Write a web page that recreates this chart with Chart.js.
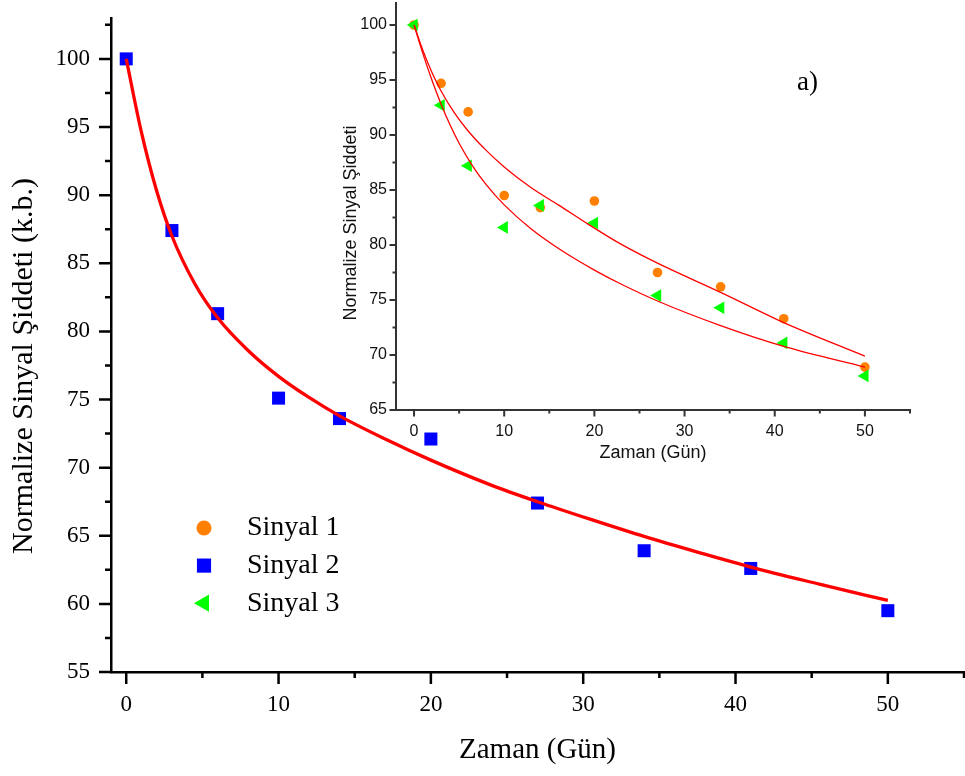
<!DOCTYPE html>
<html lang="tr">
<head>
  <meta charset="UTF-8">
  <title>Normalize Sinyal Şiddeti</title>
  <script src="https://cdn.jsdelivr.net/npm/chart.js"></script>
  <style>
    body { margin: 0; background: #fff; }
    #wrap { position: relative; width: 965px; height: 776px; }
    #wrap canvas { position: absolute; top: 0; }
    #mainChart { left: 0; }
    #insetChart { left: 330px; }
  </style>
</head>
<body>
<div id="wrap">
  <canvas id="mainChart" width="965" height="776"></canvas>
  <canvas id="insetChart" width="600" height="470"></canvas>
</div>
<script>
  // measurement days
  const days = [0, 3, 6, 10, 14, 20, 27, 34, 41, 50];

  // normalised signal intensity for each signal
  const sinyal1 = [100, 94.7, 92.1, 84.5, 83.4, 84.0, 77.5, 76.2, 73.3, 68.9];
  const sinyal2 = [100, 87.4, 81.3, 75.1, 73.6, 72.1, 67.4, 63.9, 62.6, 59.5];
  const sinyal3 = [100, 92.7, 87.2, 81.6, 83.6, 82.0, 75.4, 74.3, 71.1, 68.1];

  // fitted decay curves
  const fit2Days = [0, 1, 2, 3, 4.5, 6, 8, 10, 12, 14, 17, 20, 24, 27, 30.5, 34, 37.5, 41, 45.5, 50];
  const fit2 = [100, 94.6, 90.3, 87.0, 83.5, 81.0, 78.6, 76.7, 75.15, 73.8, 72.1, 70.55, 68.7, 67.5, 66.2, 64.95, 63.8, 62.7, 61.45, 60.25];
  const fit1Days = [0, 1, 2, 3, 4.5, 6, 8, 10, 13, 16, 19.3, 22.8, 27, 34, 41, 50];
  const fit1 = [100, 97.65, 95.65, 94.0, 91.98, 90.36, 88.6, 87.1, 85.2, 83.65, 81.9, 80.15, 78.35, 75.7, 72.95, 69.9];
  const fit3Days = [0, 1, 2, 3, 4, 5, 6.5, 8, 10, 13, 16.5, 20, 23, 27, 34, 41, 50];
  const fit3 = [100, 97.35, 94.95, 92.8, 90.9, 89.25, 87.18, 85.49, 83.65, 81.46, 79.43, 77.72, 76.43, 74.91, 72.67, 70.78, 68.9];

  // axis ticks (labels on the major ones only)
  const mainXMajor = [0, 10, 20, 30, 40, 50];
  const mainXMinor = [5, 15, 25, 35, 45, 55];
  const mainYMajor = [55, 60, 65, 70, 75, 80, 85, 90, 95, 100];
  const mainYMinor = [57.5, 62.5, 67.5, 72.5, 77.5, 82.5, 87.5, 92.5, 97.5, 102.5];
  const insetXMajor = [0, 10, 20, 30, 40, 50];
  const insetXMinor = [5, 15, 25, 35, 45, 55];
  const insetYMajor = [65, 70, 75, 80, 85, 90, 95, 100];
  const insetYMinor = [67.5, 72.5, 77.5, 82.5, 87.5, 92.5, 97.5];

  const legendLabels = ['Sinyal 1', 'Sinyal 2', 'Sinyal 3'];

  const ORANGE = '#ff8000';
  const BLUE = '#0000ff';
  const GREEN = '#00ff00';
  const RED = '#ff0000';
  const SERIF = "'Liberation Serif', 'Times New Roman', serif";
  const SANS = "'Liberation Sans', Arial, sans-serif";

  const pts = (xs, ys) => xs.map((x, i) => ({ x: x, y: ys[i] }));
  const tickList = (major, minor) => major.concat(minor).sort((a, b) => a - b).map(v => ({ value: v }));

  // short minor / long major tick marks outside the axes
  const tickMarks = {
    id: 'tickMarks',
    afterDraw(chart, args, o) {
      const { ctx, chartArea } = chart;
      const sx = chart.scales.x, sy = chart.scales.y;
      ctx.save();
      ctx.strokeStyle = o.color;
      ctx.lineWidth = o.width;
      ctx.beginPath();
      sx.ticks.forEach(t => {
        const px = sx.getPixelForValue(t.value);
        const len = o.xMajor.includes(t.value) ? o.major : o.minor;
        ctx.moveTo(px, chartArea.bottom);
        ctx.lineTo(px, chartArea.bottom + len);
      });
      sy.ticks.forEach(t => {
        const py = sy.getPixelForValue(t.value);
        const len = o.yMajor.includes(t.value) ? o.major : o.minor;
        ctx.moveTo(chartArea.left, py);
        ctx.lineTo(chartArea.left - len, py);
      });
      ctx.stroke();
      ctx.restore();
    }
  };

  // free text: rotated y titles and the panel letter
  const texts = {
    id: 'texts',
    afterDraw(chart, args, o) {
      const ctx = chart.ctx;
      (o.items || []).forEach(it => {
        ctx.save();
        ctx.translate(it.x, it.y);
        if (it.rotate) ctx.rotate(it.rotate);
        ctx.font = it.font;
        ctx.fillStyle = it.color || '#000';
        ctx.textAlign = it.align || 'center';
        ctx.textBaseline = 'middle';
        ctx.fillText(it.text, 0, 0);
        ctx.restore();
      });
    }
  };

  // legend box sitting inside the plot
  const markerLegend = {
    id: 'markerLegend',
    afterDraw(chart, args, o) {
      const ctx = chart.ctx;
      o.items.forEach((it, i) => {
        const y = o.y + i * o.step;
        ctx.save();
        ctx.fillStyle = it.color;
        Chart.helpers.drawPoint(ctx, { pointStyle: it.style, radius: it.radius, rotation: it.rotation || 0, borderWidth: 0 }, o.x, y);
        ctx.fillStyle = '#000';
        ctx.font = o.font;
        ctx.textAlign = 'left';
        ctx.textBaseline = 'middle';
        ctx.fillText(it.text, o.textX, y);
        ctx.restore();
      });
    }
  };

  new Chart(document.getElementById('mainChart'), {
    type: 'scatter',
    data: {
      datasets: [
        {
          label: 'Fit',
          data: pts(fit2Days, fit2),
          showLine: true,
          borderColor: RED,
          borderWidth: 3.3,
          pointRadius: 0,
          pointHoverRadius: 0,
          cubicInterpolationMode: 'monotone',
          order: 0
        },
        {
          label: legendLabels[1],
          data: pts(days, sinyal2),
          pointStyle: 'rect',
          pointRadius: 9.2,
          backgroundColor: BLUE,
          pointBorderWidth: 0,
          order: 1
        }
      ]
    },
    options: {
      responsive: false,
      animation: false,
      devicePixelRatio: 1,
      layout: { autoPadding: false, padding: { top: 18, right: 1, left: 0, bottom: 0 } },
      plugins: {
        legend: { display: false },
        tooltip: { enabled: false },
        tickMarks: { color: '#000', width: 2.5, major: 12, minor: 6, xMajor: mainXMajor, yMajor: mainYMajor },
        texts: {
          items: [
            { text: 'Normalize Sinyal Şiddeti (k.b.)', x: 24, y: 366, rotate: -Math.PI / 2, font: '30px ' + SERIF },
            { text: 'a)', x: 797, y: 83, align: 'left', font: '27px ' + SERIF }
          ]
        },
        markerLegend: {
          x: 204, y: 528, step: 37.6, textX: 247, font: '28px ' + SERIF,
          items: [
            { text: legendLabels[0], style: 'circle', radius: 7.5, color: ORANGE },
            { text: legendLabels[1], style: 'rect', radius: 10, color: BLUE },
            { text: legendLabels[2], style: 'triangle', radius: 10, rotation: -90, color: GREEN }
          ]
        }
      },
      scales: {
        x: {
          type: 'linear',
          min: -1,
          max: 55,
          afterBuildTicks: s => { s.ticks = tickList(mainXMajor, mainXMinor); },
          afterFit: s => { s.height = 104; s.paddingLeft = 0; s.paddingRight = 0; },
          grid: { display: false, drawTicks: false },
          border: { display: true, color: '#000', width: 2.5 },
          ticks: {
            autoSkip: false,
            maxRotation: 0,
            padding: 19,
            color: '#000',
            font: { family: SERIF, size: 23 },
            callback: v => mainXMajor.includes(v) ? v : ''
          },
          title: { display: true, text: 'Zaman (Gün)', color: '#000', font: { family: SERIF, size: 29 }, padding: { top: 0, bottom: 8 } }
        },
        y: {
          type: 'linear',
          min: 55,
          max: 103,
          afterBuildTicks: s => { s.ticks = tickList(mainYMajor, mainYMinor); },
          afterFit: s => { s.width = 111; s.paddingTop = 0; s.paddingBottom = 0; },
          grid: { display: false, drawTicks: false },
          border: { display: true, color: '#000', width: 2.5 },
          ticks: {
            autoSkip: false,
            padding: 21,
            color: '#000',
            font: { family: SERIF, size: 23 },
            callback: v => mainYMajor.includes(v) ? v : ''
          }
        }
      }
    },
    plugins: [tickMarks, texts, markerLegend]
  });

  new Chart(document.getElementById('insetChart'), {
    type: 'scatter',
    data: {
      datasets: [
        {
          label: 'Fit 1',
          data: pts(fit1Days, fit1),
          showLine: true,
          borderColor: RED,
          borderWidth: 1.3,
          pointRadius: 0,
          pointHoverRadius: 0,
          cubicInterpolationMode: 'monotone',
          order: 0
        },
        {
          label: 'Fit 3',
          data: pts(fit3Days, fit3),
          showLine: true,
          borderColor: RED,
          borderWidth: 1.3,
          pointRadius: 0,
          pointHoverRadius: 0,
          cubicInterpolationMode: 'monotone',
          order: 0
        },
        {
          label: legendLabels[0],
          data: pts(days, sinyal1),
          pointStyle: 'circle',
          pointRadius: 4.8,
          backgroundColor: ORANGE,
          pointBorderWidth: 0,
          order: 2
        },
        {
          label: legendLabels[2],
          data: pts(days, sinyal3),
          pointStyle: 'triangle',
          pointRotation: -90,
          pointRadius: 7.3,
          backgroundColor: GREEN,
          pointBorderWidth: 0,
          order: 1
        }
      ]
    },
    options: {
      responsive: false,
      animation: false,
      devicePixelRatio: 1,
      layout: { autoPadding: false, padding: { top: 3, right: 20, left: 0, bottom: 0 } },
      plugins: {
        legend: { display: false },
        tooltip: { enabled: false },
        tickMarks: { color: '#333', width: 2, major: 6.5, minor: 3.5, xMajor: insetXMajor, yMajor: insetYMajor },
        texts: {
          items: [
            { text: 'Normalize Sinyal Şiddeti', x: 21, y: 223, rotate: -Math.PI / 2, font: '18px ' + SANS, color: '#111' }
          ]
        }
      },
      scales: {
        x: {
          type: 'linear',
          min: -2,
          max: 55,
          afterBuildTicks: s => { s.ticks = tickList(insetXMajor, insetXMinor); },
          afterFit: s => { s.height = 60; s.paddingLeft = 0; s.paddingRight = 0; },
          grid: { display: false, drawTicks: false },
          border: { display: true, color: '#333', width: 2 },
          ticks: {
            autoSkip: false,
            maxRotation: 0,
            padding: 12,
            color: '#111',
            font: { family: SANS, size: 16 },
            callback: v => insetXMajor.includes(v) ? v : ''
          },
          title: { display: true, text: 'Zaman (Gün)', color: '#111', font: { family: SANS, size: 18 }, padding: { top: 0, bottom: 6.5 } }
        },
        y: {
          type: 'linear',
          min: 65,
          max: 102,
          afterBuildTicks: s => { s.ticks = tickList(insetYMajor, insetYMinor); },
          afterFit: s => { s.width = 66; s.paddingTop = 0; s.paddingBottom = 0; },
          grid: { display: false, drawTicks: false },
          border: { display: true, color: '#333', width: 2 },
          ticks: {
            autoSkip: false,
            padding: 9,
            color: '#111',
            font: { family: SANS, size: 16 },
            callback: v => insetYMajor.includes(v) ? v : ''
          }
        }
      }
    },
    plugins: [tickMarks, texts]
  });
</script>
</body>
</html>
